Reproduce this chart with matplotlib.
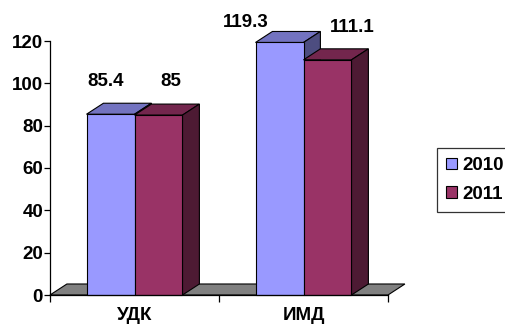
import matplotlib
matplotlib.use("Agg")
import matplotlib.pyplot as plt
from matplotlib.patches import Polygon, Patch

plt.rcParams["font.family"] = ["Liberation Sans", "DejaVu Sans"]
plt.rcParams["font.weight"] = "bold"

categories = ["УДК", "ИМД"]
years = ["2010", "2011"]
values_2010 = [85.4, 119.3]
values_2011 = [85, 111.1]

FRONT = ["#9999FF", "#993366"]
TOP = ["#7373C0", "#73264D"]
SIDE = ["#4D4D80", "#4D1A33"]
FLOOR = "#808080"
FS = 13.5

BAR_W = 0.284
DX = 0.1      # depth in x (data units)
DY = 5.2      # depth in y (data units)
# label offsets in pixels, per category / series
LABEL_OFF = [[(-5, 33), (12, 34)], [(-34, 20), (25, 32)]]


def main():
    fig = plt.figure(figsize=(5.05, 3.25), dpi=100)
    fig.patch.set_facecolor("white")
    ax = fig.add_axes([50 / 505, 30 / 325, 338 / 505, 254 / 325])
    ax.set_xlim(0, 2)
    ax.set_ylim(0, 120)
    ax.set_facecolor("none")

    # floor
    ax.add_patch(Polygon([(0, 0), (2, 0), (2 + DX, DY), (DX, DY)], closed=True,
                         facecolor=FLOOR, edgecolor="black", linewidth=0.8,
                         clip_on=False, zorder=1))

    series = [values_2010, values_2011]
    for s, vals in enumerate(series):
        xs = [i + 0.5 + (s - 0.5) * BAR_W for i in range(len(categories))]
        bars = ax.bar(xs, vals, width=BAR_W, color=FRONT[s], edgecolor="black",
                      linewidth=0.8, zorder=3 + s * 2, clip_on=False)
        for i, b in enumerate(bars):
            x0, x1, h = b.get_x(), b.get_x() + b.get_width(), b.get_height()
            ax.add_patch(Polygon([(x0, h), (x1, h), (x1 + DX, h + DY), (x0 + DX, h + DY)],
                                 facecolor=TOP[s], edgecolor="black", linewidth=0.8,
                                 clip_on=False, zorder=2 + s * 2))
            ax.add_patch(Polygon([(x1, 0), (x1 + DX, DY), (x1 + DX, h + DY), (x1, h)],
                                 facecolor=SIDE[s], edgecolor="black", linewidth=0.8,
                                 clip_on=False, zorder=2 + s * 2))
            dx, dy = LABEL_OFF[i][s]
            lab = f"{vals[i]:g}"
            ax.annotate(lab, xy=(x0 + BAR_W / 2, h), xytext=(dx, dy),
                        textcoords="offset pixels", ha="center", va="center",
                        fontsize=FS, fontweight="bold", annotation_clip=False)

    for side in ["top", "right"]:
        ax.spines[side].set_visible(False)
    ax.spines["left"].set_linewidth(0.9)
    ax.spines["bottom"].set_linewidth(0.9)
    ax.spines["left"].set_zorder(10)
    ax.spines["bottom"].set_zorder(10)

    ax.set_yticks(range(0, 121, 20))
    ax.tick_params(axis="y", length=4, width=0.9, labelsize=FS, pad=1)
    ax.set_xticks([0, 1, 2])
    ax.set_xticklabels([])
    ax.set_xticks([0.5, 1.5], minor=True)
    ax.set_xticklabels(categories, minor=True, fontsize=FS, fontweight="bold")
    ax.tick_params(axis="x", which="major", length=5, width=0.9)
    ax.tick_params(axis="x", which="minor", length=0, pad=9)

    handles = [Patch(facecolor=FRONT[k], edgecolor="black", linewidth=0.8) for k in range(2)]
    leg = fig.legend(handles, years, loc="upper left", bbox_to_anchor=(437 / 505, 1 - 148 / 325),
                     frameon=True, fancybox=False, edgecolor="black", fontsize=FS,
                     handlelength=0.55, handleheight=0.55, handletextpad=0.3,
                     borderpad=0.5, labelspacing=0.6, borderaxespad=0)
    leg.get_frame().set_linewidth(0.9)

    fig.savefig("out.png", dpi=100, facecolor="white")
    plt.close(fig)


if __name__ == "__main__":
    main()
